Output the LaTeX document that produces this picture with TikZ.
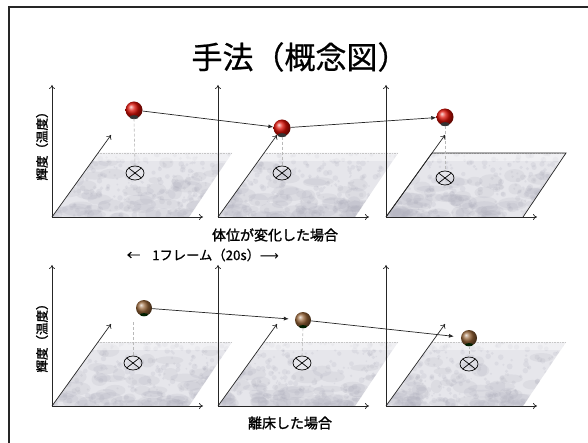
\documentclass[tikz,border=0pt]{standalone}
\usepackage{fontspec}
\newfontfamily\cjk{Noto Sans CJK JP}
\newfontfamily\cjkm[FakeBold=0.7]{Noto Sans CJK JP}
\newfontfamily\cjkb[FakeBold=1.6]{Noto Sans CJK JP}
\newfontfamily\dvs{DejaVu Sans}
\usetikzlibrary{arrows.meta,shapes.geometric}

\definecolor{floorbase}{RGB}{230,230,235}
\definecolor{floorblot}{RGB}{165,165,180}
\definecolor{redball}{RGB}{220,15,5}
\definecolor{bronzeball}{RGB}{150,100,55}

\tikzset{
  axis/.style={line width=0.7pt, black!85, -{To[length=4pt,width=6pt]}},
  ballpin/.style={circle, inner sep=0pt, minimum size=17pt, shading=ball},
  redpin/.style={ballpin, ball color=redball},
  bronzepin/.style={ballpin, ball color=bronzeball, minimum size=16pt},
  crossmark/.style={ellipse, draw, line width=0.7pt, inner sep=0pt,
    minimum width=18pt, minimum height=14pt,
    path picture={\draw[line width=0.7pt]
      (path picture bounding box.north east) -- (path picture bounding box.south west)
      (path picture bounding box.north west) -- (path picture bounding box.south east);}},
  drop/.style={gray!55, line width=0.6pt, densely dashed},
  move/.style={line width=0.7pt, black!85, -{Latex[length=5pt,width=4pt]}},
  label/.style={inner sep=0pt, font=\cjkb},
}

% mottled floor plane of one panel, origin at its front-left corner
\newcommand{\floorplane}[2]{%
  \begin{scope}[shift={(#1,#2)}]
    \begin{scope}
      \clip (0,0) -- (46,-64) -- (180,-64) -- (137,0) -- cycle;
      \fill[floorbase] (-5,5) rectangle (185,-70);
      % broad cloudy patches, denser towards the front
      \foreach \k in {1,...,80}{%
        \pgfmathsetmacro\px{rnd*190-5}%
        \pgfmathsetmacro\py{-rnd*rnd*60}%
        \pgfmathsetmacro\rx{5+rnd*11}%
        \pgfmathsetmacro\ry{3+rnd*4}%
        \fill[floorblot, opacity=0.15] (\px,\py) ellipse [x radius=\rx pt, y radius=\ry pt];
      }
      % fine grain
      \foreach \k in {1,...,260}{%
        \pgfmathsetmacro\px{rnd*190-5}%
        \pgfmathsetmacro\py{-rnd*66}%
        \pgfmathsetmacro\rr{0.8+rnd*2.2}%
        \fill[floorblot, opacity=0.16] (\px,\py) circle [radius=\rr pt];
      }
      \fill[white, opacity=0.4] (0,-56) rectangle (185,-66);
    \end{scope}
    \draw[gray!45, line width=0.6pt, densely dotted] (46,-64) -- (180,-64);
  \end{scope}}

\begin{document}
\begin{tikzpicture}[x=1pt,y=-1pt]
  \pgfmathsetseed{4711}
  \fill[white] (0,0) rectangle (588,443);
  \useasboundingbox (0,0) rectangle (588,443);

  % slide frame
  \draw[line width=2pt, black!85] (8.5,443) -- (8.5,7.5) -- (588,7.5);

  % title
  \node[inner sep=0pt, font=\cjkm\fontsize{31}{31}\selectfont] (title) at (300,57) {手法（概念図）};

  % floor planes
  \floorplane{52}{217}
  \floorplane{218}{217}
  \floorplane{386}{217}
  \floorplane{52}{406}
  \floorplane{218}{406}
  \floorplane{386}{406}
  \draw[line width=0.7pt, black!85] (386,217) -- (432,153) -- (566,153) -- (523,217);

  % panel axes: origin, vertical tip, horizontal tip, depth tip
  \foreach \n/\ox/\oy/\vy in {1/52/217/85, 2/218/217/85, 3/386/217/85,
                              4/52/406/265, 5/218/406/265, 6/386/406/265}{
    \coordinate (o\n) at (\ox,\oy);
    \coordinate (v\n) at (\ox,\vy);
    \coordinate (h\n) at ({\ox+151},\oy);
    \coordinate (d\n) at ({\ox+59},{\oy-82});
    \draw[axis] (o\n) -- (v\n);
    \draw[axis] (o\n) -- (h\n);
    \draw[axis] (o\n) -- (d\n);
  }

  % position marks on the floor
  \node[crossmark] (x1) at (135,173) {};
  \node[crossmark] (x2) at (282,173) {};
  \node[crossmark] (x3) at (445,178) {};
  \node[crossmark] (x4) at (133,363) {};
  \node[crossmark] (x5) at (302,363) {};
  \node[crossmark] (x6) at (469,364) {};

  % balls: changed posture
  \node[redpin] (b1) at (134,110) {};
  \node[redpin] (b2) at (282,128) {};
  \node[redpin] (b3) at (445,117) {};
  % balls: left the bed
  \node[bronzepin] (b4) at (144,308) {};
  \node[bronzepin] (b5) at (303,320) {};
  \node[bronzepin] (b6) at (469,338) {};

  % dark bases under the balls
  \foreach \b in {b1,b2,b3}{
    \fill[black!80] (\b.south) ++(0,-1.5) ellipse [x radius=4.5pt, y radius=2pt];
  }
  \foreach \b in {b4,b5,b6}{
    \fill[black!70!green!40!black] (\b.south) ++(0,-1.5) ellipse [x radius=4pt, y radius=1.6pt];
  }

  % drop lines from ball to floor mark
  \coordinate (p4) at (133,322);
  \draw[drop] (b1.south) -- (x1.north);
  \draw[drop] (b2.south) -- (x2.north);
  \draw[drop] (b3.south) -- (x3.north);
  \draw[drop] (p4) -- (x4.north);
  \draw[drop] (b5.south) -- (x5.north);
  \draw[drop] (b6.south) -- (x6.north);

  % movement between frames
  \draw[move] (b1) -- (b2);
  \draw[move] (b2) -- (b3);
  \draw[move, shorten >=6pt] (b4) -- (b5);
  \draw[move, shorten >=7pt] (b5) -- (b6);

  % labels
  \node[label, rotate=90, font=\cjkb\fontsize{12.5}{12.5}\selectfont] (ya) at (42,143) {輝度（温度）};
  \node[label, rotate=90, font=\cjkb\fontsize{12.5}{12.5}\selectfont] (yb) at (42,335) {輝度（温度）};
  \node[label, font=\cjkb\fontsize{14}{14}\selectfont] (cap1) at (275,235) {体位が変化した場合};
  \node[label, font=\cjkm\fontsize{13.3}{13.3}\selectfont] (frame) at (203,255)
    {←\hspace{0.9em}1フレーム（20s）{\dvs ⟶}};
  \node[label, font=\cjkb\fontsize{14}{14}\selectfont] (cap2) at (290,423) {離床した場合};
\end{tikzpicture}
\end{document}
